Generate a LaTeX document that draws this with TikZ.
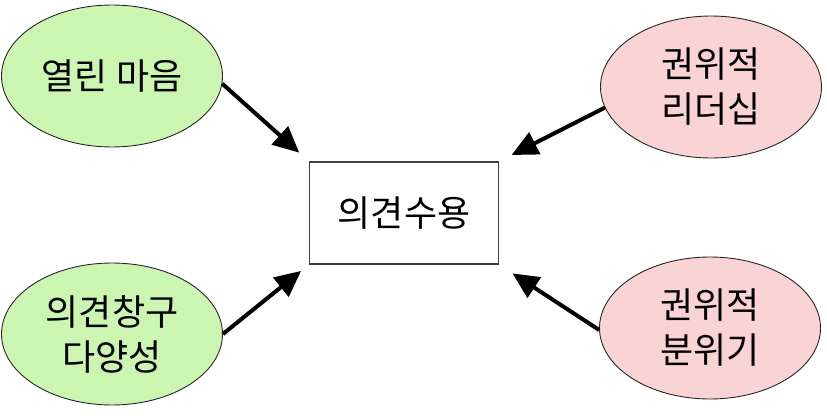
\documentclass[tikz,border=0pt]{standalone}
\usepackage{fontspec}
\newfontfamily\kor{Noto Sans CJK KR}
\usetikzlibrary{shapes.geometric,arrows.meta}
\definecolor{opengreen}{RGB}{204,245,178}
\definecolor{authpink}{RGB}{250,212,212}

\begin{document}
\begin{tikzpicture}[x=1pt, y=-1pt,
    bubble/.style={ellipse, draw=black!85, line width=0.9pt, inner sep=0pt,
                   minimum width=221pt, minimum height=142pt, align=center,
                   font=\kor\fontsize{36}{45}\selectfont},
    good/.style={bubble, fill=opengreen},
    bad/.style={bubble, fill=authpink},
    target/.style={rectangle, draw=black!75, line width=1.3pt,
                   minimum width=189pt, minimum height=102pt,
                   font=\kor\fontsize{36}{45}\selectfont},
    push/.style={line width=4pt, -{Triangle[length=26pt,width=24pt]}}]
    \useasboundingbox (0,0) rectangle (827,415);
    % nodes
    \node[target] (accept) at (404,213) {의견수용};
    \node[good] (open) at (112,76) {열린 마음};
    \node[good] (channel) at (112,334) {의견창구\\다양성};
    \node[bad] (leader) at (711,87) {권위적\\리더십};
    \node[bad] (mood) at (710,328) {권위적\\분위기};

    % arrows
    \draw[push, shorten >=13pt] (open.-4) -- (accept.north west);
    \draw[push, shorten >=10pt] (channel.0) -- (accept.south west);
    \draw[push, shorten >=14pt] (leader.191) -- (accept.north east);
    \draw[push, shorten >=16pt] (mood.181) -- (accept.south east);
\end{tikzpicture}
\end{document}
